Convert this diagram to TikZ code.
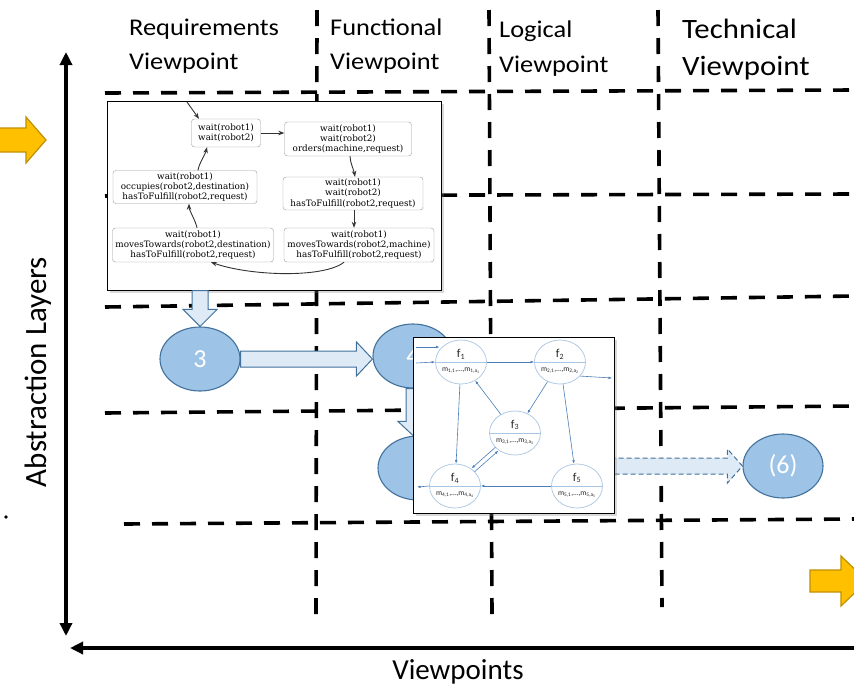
\documentclass[tikz,border=0pt]{standalone}
\usepackage{fontspec}
\setmainfont{Carlito}
\newfontfamily\hdr[FakeStretch=1.1]{Carlito}
\newfontfamily\dvs{DejaVu Serif}
\usetikzlibrary{shapes.geometric,shadows,arrows.meta,calc}
\definecolor{ellfill}{HTML}{9DC3E6}
\definecolor{ellbd}{HTML}{41719C}
\definecolor{arrfill}{HTML}{DEEBF7}
\definecolor{orfill}{HTML}{FFC000}
\definecolor{orbd}{HTML}{BF9000}
\definecolor{fbd}{HTML}{A9C6E4}
\definecolor{fedge}{HTML}{4A7EBB}
\newcommand\hblk[6]{\draw[#1] ($(#2)+(0,-#4)$) -- ($(#3)+(-#6,-#4)$) -- ($(#3)+(-#6,-#5)$) -- (#3) -- ($(#3)+(-#6,#5)$) -- ($(#3)+(-#6,#4)$) -- ($(#2)+(0,#4)$) -- cycle;}
\newcommand\vblk[6]{\draw[#1] ($(#2)+(-#4,0)$) -- ($(#3)+(-#4,-#6)$) -- ($(#3)+(-#5,-#6)$) -- (#3) -- ($(#3)+(#5,-#6)$) -- ($(#3)+(#4,-#6)$) -- ($(#2)+(#4,0)$) -- cycle;}
\begin{document}
\begin{tikzpicture}[x=1pt,y=-1pt,
  gridline/.style={line width=3.6pt, dash pattern=on 16pt off 12pt},
  axisline/.style={line width=3.4pt},
  hdrA/.style={font=\hdr\fontsize{24}{28}\selectfont, inner sep=0pt, anchor=base west},
  hdrB/.style={font=\hdr\fontsize{28}{32}\selectfont, inner sep=0pt, anchor=base west},
  bigtxt/.style={font=\fontsize{29}{34}\selectfont, inner sep=0pt},
  ell/.style={ellipse, draw=ellbd, fill=ellfill, line width=1.1pt, minimum width=80pt, minimum height=64pt, inner sep=0pt, text=white, font=\fontsize{26}{30}\selectfont},
  blk/.style={draw=ellbd, fill=arrfill, line width=1pt, line join=miter},
  dblk/.style={blk, dashed, dash pattern=on 5pt off 3pt},
  orarrow/.style={draw=orbd, fill=orfill, line width=1.2pt},
  box/.style={draw=black, fill=white, line width=1pt, drop shadow={opacity=0.3, shadow xshift=3pt, shadow yshift=-3pt}},
  sbox/.style={draw=black!40, fill=white, rounded corners=3pt, align=center, inner xsep=1pt, inner ysep=1.5pt, font=\dvs\fontsize{8.8}{10.4}\selectfont, text=black},
  sarr/.style={draw=black!80, line width=0.9pt, -{Stealth[length=6pt,width=4.5pt]}},
  fnode/.style={ellipse, draw=fbd, fill=white, line width=0.7pt, minimum width=51pt, minimum height=44pt, inner sep=0pt},
  flab/.style={inner sep=0pt, font=\fontsize{12}{13}\selectfont, text=black!85},
  mlab/.style={inner sep=0pt, font=\fontsize{7.6}{8}\selectfont, text=black!85},
  fedge/.style={draw=fedge, line width=0.6pt, -{Latex[length=3.5pt,width=2.6pt]}}
]
\useasboundingbox (0,0) rectangle (854,689);

% grid
\draw[gridline] (105,93) -- (854,90);
\draw[gridline] (105,196) -- (854,194);
\draw[gridline] (105,307) -- (854,296);
\draw[gridline] (105,413) -- (854,406);
\draw[gridline] (124,524) -- (854,519);
\draw[gridline] (317,10) -- (316,614);
\draw[gridline] (489,10) -- (492,614);
\draw[gridline] (658,10) -- (662,607);

% headers
\node[hdrA] (h1a) at (129,35) {Requirements};
\node[hdrA] (h1b) at (129,69) {Viewpoint};
\node[hdrA] (h2a) at (330,35) {Functional};
\node[hdrA] (h2b) at (330,69) {Viewpoint};
\node[hdrA] (h3a) at (499,37) {Logical};
\node[hdrA] (h3b) at (499,72) {Viewpoint};
\node[hdrB] (h4a) at (682,38) {Technical};
\node[hdrB] (h4b) at (682,75) {Viewpoint};

% axes
\coordinate (vtop) at (66,52);
\coordinate (vbot) at (66,636);
\draw[axisline, {Triangle[length=13pt,width=12pt]}-{Triangle[length=13pt,width=12pt]}] (vbot) -- (vtop);
\coordinate (hl) at (70,648);
\coordinate (hr) at (858,648);
\draw[axisline, -{Triangle[length=13pt,width=12pt]}] (hr) -- (hl);
\node[bigtxt, rotate=90, font=\fontsize{31}{36}\selectfont] (alab) at (38,372) {Abstraction Layers};
\node[bigtxt] (vlab) at (458,672) {Viewpoints};
\fill (6,517) circle (1.8pt);

% orange arrows
\draw[orarrow] (-5,128) -- (26,128) -- (26,117) -- (46,140) -- (26,163) -- (26,152) -- (-5,152) -- cycle;
\draw[orarrow] (810,570) -- (841,570) -- (841,556) -- (867,581) -- (841,606) -- (841,592) -- (810,592) -- cycle;

% ellipses
\node[ell] (e3) at (200,359) {3};
\node[ell] (e4) at (413,356) {4};
\node[ell] (e5) at (418,468) {};
\node[ell] (e6) at (783,466) {(6)};

% block arrows
\coordinate (t4) at (e4.west |- e3.east);
\hblk{blk}{e3.east}{t4}{8}{17}{16}
\coordinate (t5) at (e5.north -| e4.south);
\vblk{blk}{e4.south}{t5}{7}{15}{14}
\coordinate (s6) at (e5.east |- e6.west);
\hblk{dblk}{s6}{e6.west}{8}{17}{15}

% box 1: state machine
\node[box, minimum width=334pt, minimum height=189pt, inner sep=0pt] (box1) at (274,195.5) {};
\coordinate (s3) at (box1.south -| e3.north);
\vblk{blk}{s3}{e3.north}{8}{17}{17}
\node[sbox, minimum width=69pt, minimum height=28pt] (A) at (226,133) {wait(robot1)\\wait(robot2)};
\node[sbox, minimum width=127pt, minimum height=34pt] (B) at (348,139) {wait(robot1)\\wait(robot2)\\orders(machine,request)};
\node[sbox, minimum width=144pt, minimum height=33pt] (C) at (185,187) {wait(robot1)\\occupies(robot2,destination)\\hasToFulfill(robot2,request)};
\node[sbox, minimum width=140pt, minimum height=33pt] (D) at (353,193.5) {wait(robot1)\\wait(robot2)\\hasToFulfill(robot2,request)};
\node[sbox, minimum width=161pt, minimum height=34pt] (E) at (193,245) {wait(robot1)\\movesTowards(robot2,destination)\\hasToFulfill(robot2,request)};
\node[sbox, minimum width=150pt, minimum height=34pt] (F) at (359,245) {wait(robot1)\\movesTowards(robot2,machine)\\hasToFulfill(robot2,request)};
\coordinate (inA) at (187,102);
\draw[sarr] (inA) -- ([xshift=-27pt]A.north);
\draw[sarr] (A.east) -- (A.east -| B.west);
\draw[sarr] ([xshift=2pt]B.south) .. controls +(0,6) and +(-1,-6) .. ([xshift=2pt]D.north);
\draw[sarr] ([xshift=1pt]D.south) -- ([xshift=1pt]D.south |- F.north);
\draw[sarr] ([xshift=-15pt]F.south) .. controls +(-20,16) and +(40,14) .. ([xshift=18pt]E.south);
\draw[sarr] ([xshift=4pt]E.north) .. controls +(-1,-6) and +(0,6) .. ([xshift=4pt]C.south);
\draw[sarr] ([xshift=13pt]C.north) .. controls +(1,-7) and +(-2,8) .. ([xshift=-19pt]A.south);

% box 2: function network
\node[box, minimum width=201pt, minimum height=176pt, inner sep=0pt] (box2) at (513.5,425) {};
\foreach \i/\x/\y in {1/461/362, 2/560/362, 3/515/433, 4/455/486, 5/577/486} {
  \node[fnode] (f\i) at (\x,\y) {};
  \draw[draw=fbd, line width=0.6pt] (f\i.west) -- (f\i.east);
  \node[flab] (f\i t) at ([yshift=8pt]f\i.center) {f\textsubscript{\i}};
  \node[mlab] (f\i m) at ([yshift=-9pt]f\i.center) {m\textsubscript{\i,1},…,m\textsubscript{\i,a\textsubscript{\i}}};
}
\coordinate (in1a) at (416,347);
\coordinate (in1b) at (416,363);
\coordinate (out2) at (612,378);
\coordinate (out4) at (417,487);
\draw[fedge] (in1a) -- (in1a -| f1.150);
\draw[fedge] (in1b) -- (f1.west);
\draw[fedge] (f1.east) -- (f2.west);
\draw[fedge] (f2.-35) -- (out2);
\draw[fedge] (f1) -- (f4);
\draw[fedge] (f3) -- (f1);
\draw[fedge] (f2) -- (f3);
\draw[fedge] (f2) -- (f5);
\draw[fedge] (f5) -- (f4);
\draw[fedge] (f4.west) -- (out4);
\draw[fedge, transform canvas={xshift=1.5pt, yshift=-1.7pt}] (f4) -- (f3);
\draw[fedge, transform canvas={xshift=-1.5pt, yshift=1.7pt}] (f3) -- (f4);
\end{tikzpicture}
\end{document}
